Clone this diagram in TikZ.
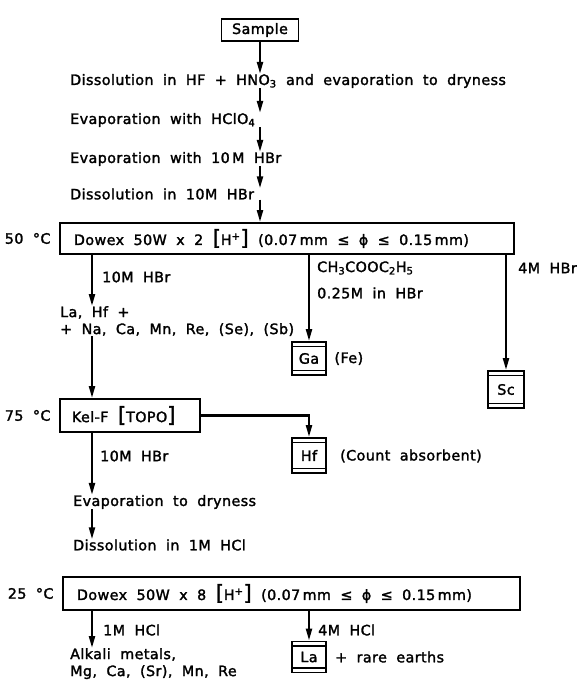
\documentclass[tikz,border=0pt]{standalone}
\usepackage{fontspec}
\setmainfont[WordSpace=1.9,LetterSpace=3,FakeBold=1.8]{DejaVu Sans}
\usetikzlibrary{arrows.meta,positioning}
\begin{document}
\begin{tikzpicture}[x=1pt, y=-1pt,
  every node/.style={font=\fontsize{14.3}{17}\selectfont},
  flow/.style={line width=2.2pt, -{Triangle[length=12pt,width=6pt]}},
  txt/.style={inner sep=0pt, anchor=west},
  resin/.style={draw, line width=1.9pt, inner sep=0pt, anchor=west},
  vial/.style={draw, line width=1.9pt, inner sep=0pt, minimum width=34pt,
    path picture={
      \draw[line width=1.4pt] ([yshift=-4.5pt]path picture bounding box.north west) -- ([yshift=-4.5pt]path picture bounding box.north east);
      \draw[line width=1.4pt] ([yshift=4.5pt]path picture bounding box.south west) -- ([yshift=4.5pt]path picture bounding box.south east);}}]
\def\bigbr#1{{\fontsize{21}{21}\selectfont#1}}
\useasboundingbox (0,0) rectangle (579,683);
% Columns of the arrows
\coordinate (colM) at (260,0);
\coordinate (colL) at (92,0);
\coordinate (colG) at (309,0);
\coordinate (colS) at (506,0);
% Sample preparation
\node[draw, line width=1.9pt, minimum width=77pt, minimum height=22pt, inner sep=0pt] (sample) at (260,30) {Sample};
\node[txt] (dissA) at (70,81) {Dissolution in HF + HNO\textsubscript{3} and evaporation to dryness};
\node[txt] (evapA) at (70,120) {Evaporation with HClO\textsubscript{4}};
\node[txt] (evapB) at (70,159) {Evaporation with 10\,M HBr};
\node[txt] (dissB) at (70,194) {Dissolution in 10M HBr};
\draw[flow] (sample.south) -- (colM |- dissA.north);
\draw[flow] (colM |- dissA.south) -- (colM |- evapA.north);
\draw[flow] (colM |- evapA.south) -- (colM |- evapB.north);
\draw[flow] (colM |- evapB.south) -- (colM |- dissB.north);
% First column, 50 C
\node[resin, minimum width=454pt, minimum height=31pt] (dowexA) at (59,238.5)
  {\makebox[454pt][l]{\hspace{14pt}Dowex 50W x 2 \bigbr{[}H\textsuperscript{+}\bigbr{]} (0.07\,mm ≤ ϕ ≤ 0.15\,mm)}};
\node[left=5pt of dowexA] (tempA) {50 °C};
\draw[flow] (colM |- dissB.south) -- (colM |- dowexA.north);
\node[txt] (eluA) at (102,277) {10M HBr};
\node[txt, anchor=north west, align=left] (fracA) at (60,306) {La, Hf +\\+ Na, Ca, Mn, Re, (Se), (Sb)};
\draw[flow] (colL |- dowexA.south) -- (colL |- fracA.north);
\node[txt] (eluB) at (317,268) {CH\textsubscript{3}COOC\textsubscript{2}H\textsubscript{5}};
\node[txt] (eluC) at (317,293) {0.25M in HBr};
\node[vial, minimum height=33pt] (ga) at (309,358.5) {Ga};
\node[right=4pt of ga] (fe) {(Fe)};
\draw[flow] (colG |- dowexA.south) -- (ga.north);
\node[txt] (eluD) at (518,268) {4M HBr};
\node[vial, minimum height=37pt, minimum width=36pt] (sc) at (506,389.5) {Sc};
\draw[flow] (colS |- dowexA.south) -- (sc.north);
% Kel-F column, 75 C
\node[resin, minimum width=140pt, minimum height=33pt] (kelf) at (59,415.5)
  {\makebox[140pt][l]{\hspace{12pt}Kel-F \bigbr{[}TOPO\bigbr{]}}};
\node[left=5pt of kelf] (tempB) {75 °C};
\draw[flow] (colL |- fracA.south) -- (colL |- kelf.north);
\node[vial, minimum height=35pt] (hf) at (309,455.5) {Hf};
\node[txt] (count) at (340,456) {(Count absorbent)};
\draw[flow] (kelf.east) -| (hf.north);
\node[txt] (eluE) at (100,456) {10M HBr};
\node[txt] (evapC) at (73,502) {Evaporation to dryness};
\node[txt] (dissC) at (73,545) {Dissolution in 1M HCl};
\draw[flow] (colL |- kelf.south) -- (colL |- evapC.north);
\draw[flow] (colL |- evapC.south) -- (colL |- dissC.north);
% Second column, 25 C
\node[resin, minimum width=457pt, minimum height=33pt] (dowexB) at (62,593.5)
  {\makebox[457pt][l]{\hspace{14pt}Dowex 50W x 8 \bigbr{[}H\textsuperscript{+}\bigbr{]} (0.07\,mm ≤ ϕ ≤ 0.15\,mm)}};
\node[left=5pt of dowexB] (tempC) {25 °C};
\node[txt] (eluF) at (103,630) {1M HCl};
\node[txt, anchor=north west, align=left] (alkali) at (70,648) {Alkali metals,\\Mg, Ca, (Sr), Mn, Re};
\draw[flow] (colL |- dowexB.south) -- (colL |- alkali.north);
\node[txt] (eluG) at (318,630) {4M HCl};
\node[vial, minimum height=31pt] (la) at (309,657) {La};
\node[txt] (rare) at (335,657) {+ rare earths};
\draw[flow] (colG |- dowexB.south) -- (la.north);
\end{tikzpicture}
\end{document}
